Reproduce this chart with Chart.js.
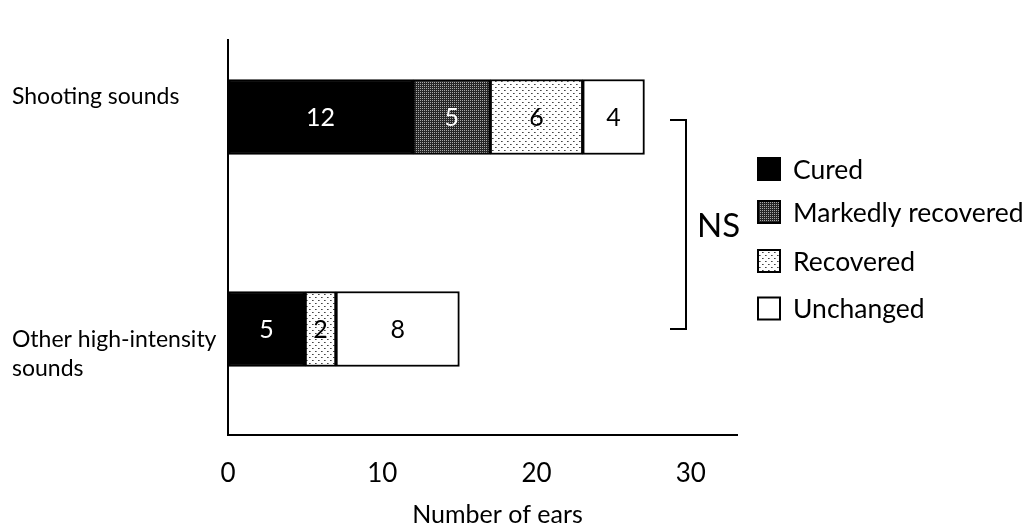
<!DOCTYPE html>
<html>
<head>
<meta charset="utf-8">
<style>
  html, body { margin: 0; padding: 0; background: #ffffff; }
  #wrap { width: 1027px; height: 529px; position: relative; }
</style>
<script src="https://cdn.jsdelivr.net/npm/chart.js@4.4.1/dist/chart.umd.min.js"></script>
</head>
<body>
<div id="wrap"><canvas id="chart" width="1027" height="529"></canvas></div>
<script>
// Exposure groups (rows) and hearing outcome counts per group
const categories = ['Shooting sounds', 'Other high-intensity sounds'];
const categoryLines = [['Shooting sounds'], ['Other high-intensity', 'sounds']];
const seriesNames = ['Cured', 'Markedly recovered', 'Recovered', 'Unchanged'];
const cured = [12, 5];
const markedlyRecovered = [5, 0];
const recovered = [6, 2];
const unchanged = [4, 8];
const xTicks = [0, 10, 20, 30];
const xMax = 33;
const xTitle = 'Number of ears';
const significance = 'NS';

const FONT = 'Lato, "Open Sans", sans-serif';

// Fill patterns for the two recovery categories
function makePattern(size, bg, dots) {
  const c = document.createElement('canvas');
  c.width = size; c.height = size;
  const g = c.getContext('2d');
  g.fillStyle = bg;
  g.fillRect(0, 0, size, size);
  dots.forEach(([x, y, col]) => { g.fillStyle = col; g.fillRect(x, y, 1, 1); });
  return g.createPattern(c, 'repeat');
}
const ctx0 = document.getElementById('chart').getContext('2d');
const densePattern = makePattern(2, '#262626', [[0, 0, '#a8a8a8']]);
const sparsePattern = makePattern(6, '#ffffff', [[0, 0, '#444'], [1, 0, '#888'], [3, 3, '#444'], [4, 3, '#888']]);

const fills = ['#000000', densePattern, sparsePattern, '#ffffff'];
const labelColors = ['#ffffff', '#ffffff', '#000000', '#000000'];
const seriesData = [cured, markedlyRecovered, recovered, unchanged];

const datasets = seriesNames.map((name, i) => ({
  label: name,
  data: seriesData[i],
  backgroundColor: fills[i],
  borderColor: '#000000',
  borderWidth: 2,
  borderSkipped: false,
  barThickness: 75
}));

// Values written inside each segment
const segmentLabels = {
  id: 'segmentLabels',
  afterDatasetsDraw(chart) {
    const c = chart.ctx;
    c.save();
    c.font = '25px ' + FONT;
    c.textAlign = 'center';
    c.textBaseline = 'middle';
    chart.data.datasets.forEach((ds, di) => {
      const meta = chart.getDatasetMeta(di);
      meta.data.forEach((el, i) => {
        const v = ds.data[i];
        if (!v) return;
        c.fillStyle = labelColors[di];
        c.fillText(String(v), (el.x + el.base) / 2, el.y + 1);
      });
    });
    c.restore();
  }
};

// Row labels, axis title, vertical axis line, significance bracket and legend
const decorations = {
  id: 'decorations',
  afterDraw(chart) {
    const c = chart.ctx;
    const area = chart.chartArea;
    const y = chart.scales.y;
    c.save();

    // vertical axis line
    c.strokeStyle = '#000';
    c.lineWidth = 2;
    c.beginPath();
    c.moveTo(area.left, area.top + 28);
    c.lineTo(area.left, area.bottom);
    c.stroke();

    // row labels
    c.fillStyle = '#000';
    c.font = '23px ' + FONT;
    c.textAlign = 'left';
    c.textBaseline = 'middle';
    const rowOffsets = [[-20], [11, 40]];
    categoryLines.forEach((lines, i) => {
      const cy = y.getPixelForValue(i);
      lines.forEach((t, j) => c.fillText(t, 12, cy + rowOffsets[i][j]));
    });

    // horizontal axis title
    c.textAlign = 'center';
    c.font = '25px ' + FONT;
    c.fillText(xTitle, (area.left + area.right) / 2 + 15, chart.height - 14);
    c.textAlign = 'left';

    // bracket joining the two rows
    const y0 = y.getPixelForValue(0) + 3;
    const y1 = y.getPixelForValue(1);
    const bx = area.right - 51;
    c.beginPath();
    c.moveTo(bx - 16, y0);
    c.lineTo(bx, y0);
    c.lineTo(bx, y1);
    c.lineTo(bx - 16, y1);
    c.stroke();
    c.font = '33px ' + FONT;
    c.fillText(significance, bx + 11, (y0 + y1) / 2 + 2);

    // legend
    const lx = area.right + 20;
    const rows = [169, 212, 261, 308.5];
    c.font = '26.5px ' + FONT;
    chart.data.datasets.forEach((ds, i) => {
      const cy = rows[i];
      c.fillStyle = ds.backgroundColor;
      c.fillRect(lx + 1, cy - 11, 22, 22);
      c.strokeStyle = '#000';
      c.lineWidth = 2;
      c.strokeRect(lx + 1, cy - 11, 22, 22);
      c.fillStyle = '#000';
      c.fillText(ds.label, lx + 36, cy + 1);
    });
    c.restore();
  }
};

new Chart(ctx0, {
  type: 'bar',
  data: { labels: categories, datasets },
  options: {
    indexAxis: 'y',
    responsive: false,
    animation: false,
    layout: { padding: { left: 228, right: 290, top: 11, bottom: 0 } },
    plugins: { legend: { display: false }, tooltip: { enabled: false } },
    scales: {
      x: {
        stacked: true,
        min: 0,
        max: xMax,
        afterBuildTicks(scale) { scale.ticks = xTicks.map(v => ({ value: v })); },
        afterFit(scale) { scale.height = 94; },
        grid: { display: false, drawTicks: false },
        border: { display: true, color: '#000', width: 2 },
        ticks: { color: '#000', font: { family: FONT, size: 26 }, padding: 23, maxRotation: 0 },
        title: { display: false }
      },
      y: {
        stacked: true,
        display: false,
        offset: true
      }
    }
  },
  plugins: [segmentLabels, decorations]
});
</script>
</body>
</html>
